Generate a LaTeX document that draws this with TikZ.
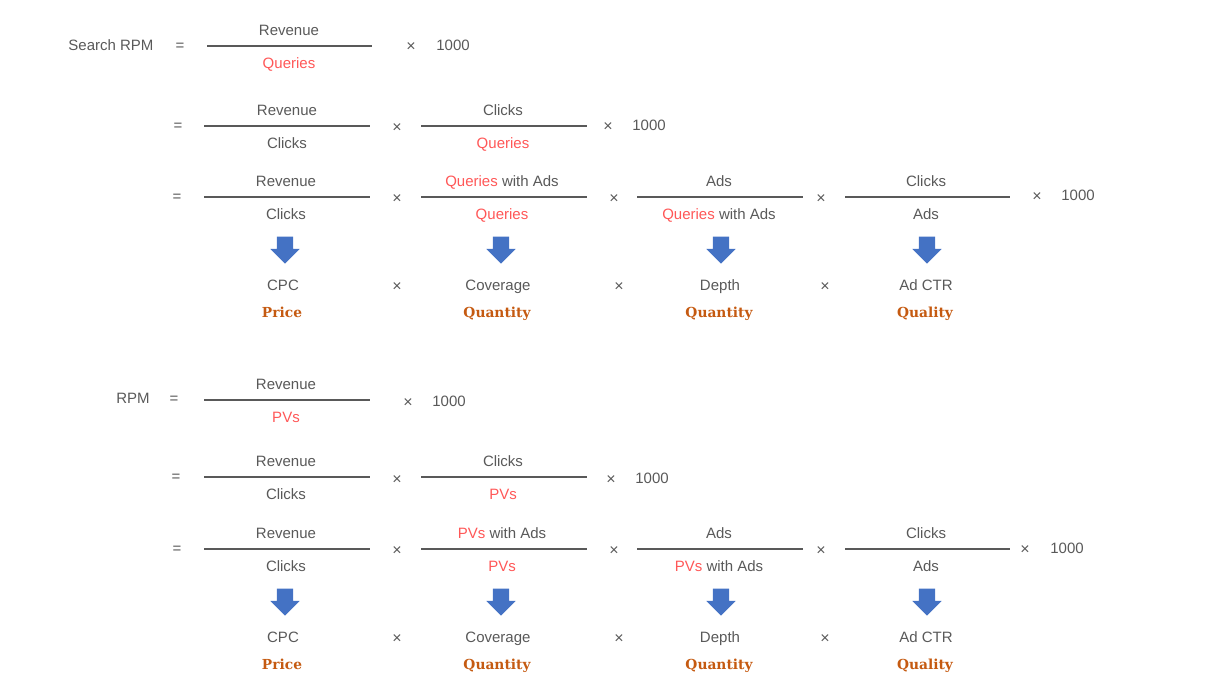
\documentclass[tikz,border=0pt]{standalone}
\usepackage{fontspec}
\setmainfont{Liberation Sans}
\newfontfamily\lblfont{DejaVu Serif}
\usetikzlibrary{shapes.arrows}
\definecolor{txt}{HTML}{595959}
\definecolor{hl}{HTML}{FF5757}
\definecolor{lbl}{HTML}{C55A11}
\definecolor{arr}{HTML}{4472C4}
\newcommand{\hi}[1]{\textcolor{hl}{#1}}
% \MyFrac{name}{cx}{ylinecentre}{x1}{x2}{num}{den}
\newcommand{\MyFrac}[7]{%
  \node[t] (#1n) at (#2,#3-16) {#6};
  \node[t] (#1d) at (#2,#3+17) {#7};
  \coordinate (#1l) at (#4,#3);
  \coordinate (#1r) at (#5,#3);
  \draw[fline] (#1l) -- (#1r);
}
\begin{document}
\begin{tikzpicture}[x=1pt,y=-1pt,
  t/.style={text=txt,font=\fontsize{15}{17}\selectfont,inner sep=0pt,text height=10.5pt,text depth=0pt,anchor=center},
  tm/.style={text=txt,font=\fontsize{16}{18}\selectfont,inner sep=0pt,anchor=center,yshift=-2pt},
  lb/.style={text=lbl,font=\lblfont\bfseries\fontsize{13.8}{15}\selectfont,inner sep=0pt,text height=9.5pt,text depth=0pt,anchor=center},
  fline/.style={draw=txt,line width=1.8pt},
  bigarrow/.style={single arrow,fill=arr,draw=none,shape border rotate=270,
     inner sep=8pt,single arrow head extend=6.5pt,minimum height=27pt}
]
\useasboundingbox (0,0) rectangle (1228,682);

% ---------- Block 1: Search RPM ----------
\node[t] (srpm) at (111,45) {Search RPM};
\node[t] (eqa) at (180,45) {=};
\MyFrac{fa}{289}{46}{207}{372}{Revenue}{\hi{Queries}}
\node[tm] (xa) at (411,45) {×};
\node[t] (ka) at (453,45) {1000};

\node[t] (eqb) at (178,125) {=};
\MyFrac{fba}{287}{126}{204}{370}{Revenue}{Clicks}
\node[tm] (xb1) at (397,126) {×};
\MyFrac{fbb}{503}{126}{421}{587}{Clicks}{\hi{Queries}}
\node[tm] (xb2) at (608,125) {×};
\node[t] (kb) at (649,125) {1000};

\node[t] (eqc) at (177,196) {=};
\MyFrac{fca}{286}{197}{204}{370}{Revenue}{Clicks}
\node[tm] (xc1) at (397,197) {×};
\MyFrac{fcb}{502}{197}{421}{587}{\hi{Queries} with Ads}{\hi{Queries}}
\node[tm] (xc2) at (614,197) {×};
\MyFrac{fcc}{719}{197}{637}{803}{Ads}{\hi{Queries} with Ads}
\node[tm] (xc3) at (821,197) {×};
\MyFrac{fcd}{926}{197}{845}{1010}{Clicks}{Ads}
\node[tm] (xc4) at (1037,195) {×};
\node[t] (kc) at (1078,195) {1000};

\node[bigarrow] (aa1) at (285,246) {};
\node[bigarrow] (aa2) at (501,246) {};
\node[bigarrow] (aa3) at (721,246) {};
\node[bigarrow] (aa4) at (927,246) {};

\node[t] (cpca) at (283,285) {CPC};
\node[tm] (xd1) at (397,285) {×};
\node[t] (cova) at (498,285) {Coverage};
\node[tm] (xd2) at (619,285) {×};
\node[t] (depa) at (720,285) {Depth};
\node[tm] (xd3) at (825,285) {×};
\node[t] (ctra) at (926,285) {Ad CTR};

\node[lb] (pra) at (282,313) {Price};
\node[lb] (qua1) at (497,313) {Quantity};
\node[lb] (qua2) at (719,313) {Quantity};
\node[lb] (qla) at (925,313) {Quality};

% ---------- Block 2: RPM ----------
\node[t] (rpm) at (133,398) {RPM};
\node[t] (eqe) at (174,398) {=};
\MyFrac{fe}{286}{400}{204}{370}{Revenue}{\hi{PVs}}
\node[tm] (xe) at (408,401) {×};
\node[t] (ke) at (449,401) {1000};

\node[t] (eqf) at (176,476) {=};
\MyFrac{ffa}{286}{477}{204}{370}{Revenue}{Clicks}
\node[tm] (xf1) at (397,478) {×};
\MyFrac{ffb}{503}{477}{421}{587}{Clicks}{\hi{PVs}}
\node[tm] (xf2) at (611,478) {×};
\node[t] (kf) at (652,478) {1000};

\node[t] (eqg) at (177,548) {=};
\MyFrac{fga}{286}{549}{204}{370}{Revenue}{Clicks}
\node[tm] (xg1) at (397,549) {×};
\MyFrac{fgb}{502}{549}{421}{587}{\hi{PVs} with Ads}{\hi{PVs}}
\node[tm] (xg2) at (614,549) {×};
\MyFrac{fgc}{719}{549}{637}{803}{Ads}{\hi{PVs} with Ads}
\node[tm] (xg3) at (821,549) {×};
\MyFrac{fgd}{926}{549}{845}{1010}{Clicks}{Ads}
\node[tm] (xg4) at (1025,548) {×};
\node[t] (kg) at (1067,548) {1000};

\node[bigarrow] (ab1) at (285,598) {};
\node[bigarrow] (ab2) at (501,598) {};
\node[bigarrow] (ab3) at (721,598) {};
\node[bigarrow] (ab4) at (927,598) {};

\node[t] (cpcb) at (283,637) {CPC};
\node[tm] (xh1) at (397,637) {×};
\node[t] (covb) at (498,637) {Coverage};
\node[tm] (xh2) at (619,637) {×};
\node[t] (depb) at (720,637) {Depth};
\node[tm] (xh3) at (825,637) {×};
\node[t] (ctrb) at (926,637) {Ad CTR};

\node[lb] (prb) at (282,665) {Price};
\node[lb] (qub1) at (497,665) {Quantity};
\node[lb] (qub2) at (719,665) {Quantity};
\node[lb] (qlb) at (925,665) {Quality};
\end{tikzpicture}
\end{document}
